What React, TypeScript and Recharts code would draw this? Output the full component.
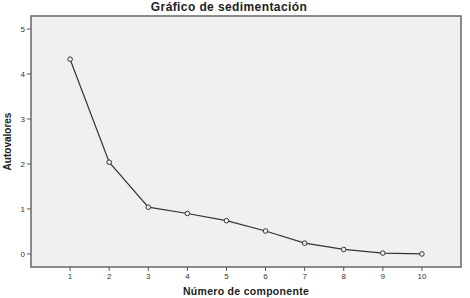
import React from "react";
import {
  LineChart,
  Line,
  XAxis,
  YAxis,
  ReferenceArea,
  Label,
} from "recharts";

const components = [1, 2, 3, 4, 5, 6, 7, 8, 9, 10];
const eigenvalues = [4.33, 2.04, 1.04, 0.9, 0.74, 0.51, 0.24, 0.1, 0.02, 0.0];
const xTicks = [1, 2, 3, 4, 5, 6, 7, 8, 9, 10];
const yTicks = [0, 1, 2, 3, 4, 5];

const data = components.map((c, i) => ({ componente: c, valor: eigenvalues[i] }));

const FONT = "'Liberation Sans', Arial, sans-serif";
const X_DOMAIN: [number, number] = [0, 11];
const Y_DOMAIN: [number, number] = [-0.29, 5.29];

export default function App() {
  return (
    <div
      style={{
        position: "absolute",
        left: 0,
        top: 0,
        width: 470,
        height: 298,
        background: "#fff",
        fontFamily: FONT,
      }}
    >
      <div
        style={{
          position: "absolute",
          left: 0,
          width: 458,
          top: 0,
          textAlign: "center",
          fontSize: 12,
          letterSpacing: 0.4,
          fontWeight: "bold",
          color: "#222",
        }}
      >
        Gráfico de sedimentación
      </div>
      <LineChart
        width={470}
        height={298}
        data={data}
        margin={{ top: 16, right: 9, bottom: 0, left: 0 }}
      >
        <ReferenceArea
          x1={X_DOMAIN[0]}
          x2={X_DOMAIN[1]}
          y1={Y_DOMAIN[0]}
          y2={Y_DOMAIN[1]}
          fill="#f0f0f0"
          fillOpacity={1}
          stroke="#666"
          strokeWidth={1.5}
        />
        <XAxis
          dataKey="componente"
          type="number"
          domain={X_DOMAIN}
          ticks={xTicks}
          height={31}
          axisLine={false}
          tickLine={{ stroke: "#555" }}
          tickSize={4}
          tick={{ fontSize: 8, fill: "#333", fontFamily: FONT }}
        >
          <Label
            value="Número de componente"
            position="insideBottom"
            offset={3}
            style={{
              fontSize: 10.5,
              letterSpacing: 0.3,
              fontWeight: "bold",
              fill: "#222",
              fontFamily: FONT,
            }}
          />
        </XAxis>
        <YAxis
          type="number"
          domain={Y_DOMAIN}
          ticks={yTicks}
          width={31}
          axisLine={false}
          tickLine={{ stroke: "#555" }}
          tickSize={4}
          tick={{ fontSize: 8, fill: "#333", fontFamily: FONT }}
        >
          <Label
            value="Autovalores"
            angle={-90}
            position="insideLeft"
            offset={7}
            style={{
              fontSize: 10,
              fontWeight: "bold",
              fill: "#222",
              fontFamily: FONT,
              textAnchor: "middle",
            }}
          />
        </YAxis>
        <Line
          dataKey="valor"
          stroke="#333"
          strokeWidth={1.2}
          dot={{ r: 2.3, stroke: "#333", strokeWidth: 1, fill: "#f0f0f0" }}
          activeDot={false}
          isAnimationActive={false}
        />
      </LineChart>
    </div>
  );
}
